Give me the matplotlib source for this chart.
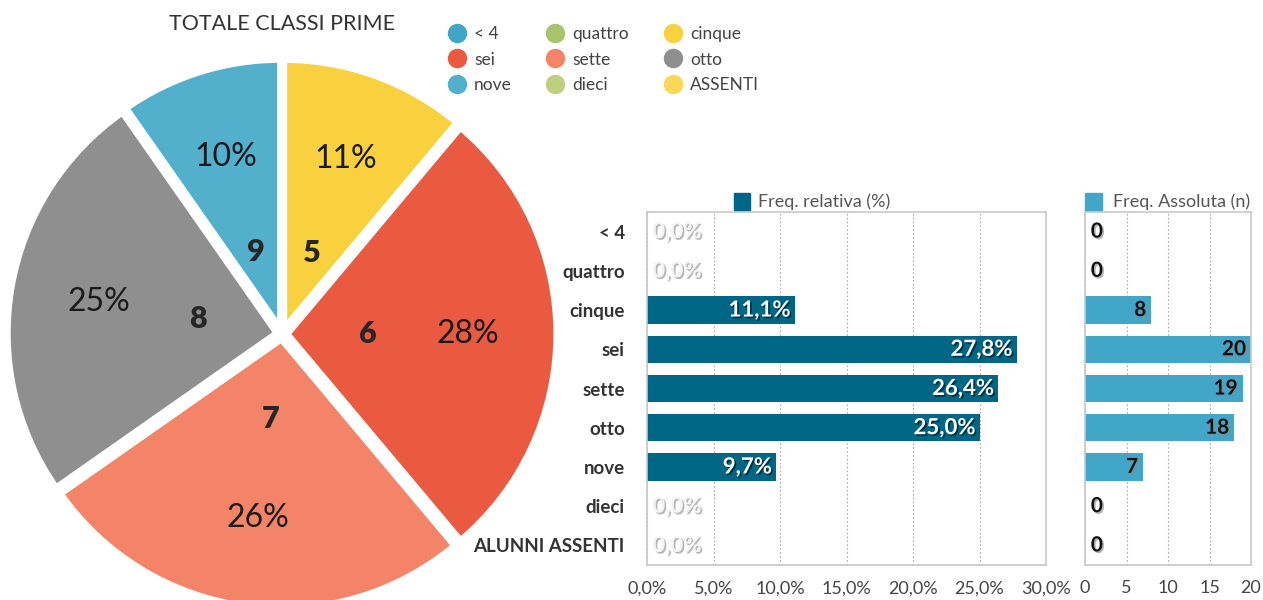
import matplotlib
matplotlib.use('Agg')
import matplotlib.pyplot as plt
import matplotlib.patheffects as pe
from matplotlib.lines import Line2D
from matplotlib.patches import Rectangle
import numpy as np

plt.rcParams['font.family'] = ['Lato', 'DejaVu Sans']

# data
categories = ['< 4', 'quattro', 'cinque', 'sei', 'sette', 'otto', 'nove', 'dieci', 'ALUNNI ASSENTI']
legend_names = ['< 4', 'quattro', 'cinque', 'sei', 'sette', 'otto', 'nove', 'dieci', 'ASSENTI']
grade_labels = ['', '', '5', '6', '7', '8', '9', '', '']
counts = [0, 0, 8, 20, 19, 18, 7, 0, 0]
pct = [0.0, 0.0, 11.1, 27.8, 26.4, 25.0, 9.7, 0.0, 0.0]
colors = ['#3FA6C8', '#A8C46A', '#F9D13E', '#E95A41', '#F38467',
          '#8F8F8F', '#52B0CD', '#BDD081', '#FAD65A']

W, H = 1263, 600
fig = plt.figure(figsize=(W / 100, H / 100), dpi=100)

# ---- pie ----
cx, cy, r = 282, 334, 270
axp = fig.add_axes([(cx - r) / W, (H - cy - r) / H, 2 * r / W, 2 * r / H])
idx = [i for i, c in enumerate(counts) if c > 0]
wedges, labs, pcts = axp.pie([counts[i] for i in idx], colors=[colors[i] for i in idx],
                             labels=[grade_labels[i] for i in idx], startangle=90,
                             counterclock=False, labeldistance=0.3, autopct='%.0f%%',
                             pctdistance=0.67, explode=[0.018] * len(idx),
                             wedgeprops=dict(edgecolor='white', linewidth=5))
for t in labs:
    t.set_ha('center')
    t.set_va('center')
    t.set_fontsize(22)
    t.set_fontweight('heavy')
    t.set_color('#262626')
for t in pcts:
    t.set_fontsize(23)
    t.set_color('#1a1a1a')
axp.set_xlim(-1, 1)
axp.set_ylim(-1, 1)
axp.set_aspect('equal')
axp.axis('off')

fig.text(282 / W, 1 - 24 / H, 'TOTALE CLASSI PRIME', ha='center', va='center',
         fontsize=15.5, color='#333333')

# legend of the pie, 3 columns
order = [0, 3, 6, 1, 4, 7, 2, 5, 8]
handles = [Line2D([], [], marker='o', ls='', markersize=13, color=colors[i]) for i in order]
fig.legend(handles, [legend_names[i] for i in order], ncol=3, frameon=False,
           loc='upper left', bbox_to_anchor=(448 / W, 1 - 26 / H), fontsize=12.5,
           labelcolor='#444444', handletextpad=0.5, columnspacing=2.0,
           labelspacing=0.55, borderpad=0, borderaxespad=0, handlelength=1.0)

# ---- bar charts ----
y = np.arange(len(categories))
shadow_dark = [pe.withSimplePatchShadow(offset=(1.2, -1.2), shadow_rgbFace='#000000', alpha=0.5)]
shadow_light = [pe.withSimplePatchShadow(offset=(1.2, -1.2), shadow_rgbFace='#888888', alpha=0.6)]


def style_axis(ax):
    ax.set_ylim(len(categories) - 0.5, -0.5)
    for s in ax.spines.values():
        s.set_color('#c8c8c8')
        s.set_linewidth(1.2)
    ax.tick_params(length=0, labelsize=13, labelcolor='#444444')
    ax.tick_params(axis='x', pad=11)
    ax.grid(axis='x', ls=(0, (1.5, 2)), color='#aaaaaa', lw=0.8)
    ax.set_axisbelow(True)


ax1 = fig.add_axes([647 / W, 1 - 565 / H, 399 / W, 353 / H])
ax1.barh(y, pct, height=0.7, color='#006685')
ax1.set_xlim(0, 30)
style_axis(ax1)
ax1.set_xticks(range(0, 31, 5))
ax1.set_xticklabels([f'{t:.1f}%'.replace('.', ',') for t in range(0, 31, 5)])
ax1.set_yticks(y)
ax1.set_yticklabels(categories, fontweight='bold', fontsize=13.5, color='#333333')
ax1.tick_params(axis='y', pad=16)
for i, v in enumerate(pct):
    txt = f'{v:.1f}%'.replace('.', ',')
    if v > 0:
        ax1.text(v - 0.3, i, txt, ha='right', va='center', color='white',
                 fontweight='bold', fontsize=16, path_effects=shadow_dark)
    else:
        ax1.text(0.4, i, txt, ha='left', va='center', color='#f4f4f4',
                 fontweight='bold', fontsize=16, path_effects=shadow_light)

ax2 = fig.add_axes([1085 / W, 1 - 565 / H, 166 / W, 353 / H])
ax2.barh(y, counts, height=0.7, color='#41A6C8')
ax2.set_xlim(0, 20)
style_axis(ax2)
ax2.set_xticks(range(0, 21, 5))
ax2.set_yticks([])
for i, v in enumerate(counts):
    if v > 0:
        ax2.text(v - 0.6, i, str(v), ha='right', va='center', color='#111111',
                 fontweight='bold', fontsize=15, path_effects=shadow_light)
    else:
        ax2.text(0.7, i, str(v), ha='left', va='center', color='#111111',
                 fontweight='bold', fontsize=15, path_effects=shadow_light)

# series legends above the bar charts
fig.patches.append(Rectangle((734 / W, 1 - 210 / H), 16 / W, 17 / H,
                             transform=fig.transFigure, color='#006685'))
fig.text(758 / W, 1 - 202 / H, 'Freq. relativa (%)', va='center', fontsize=13, color='#555555')
fig.patches.append(Rectangle((1085 / W, 1 - 210 / H), 17 / W, 17 / H,
                             transform=fig.transFigure, color='#41A6C8'))
fig.text(1113 / W, 1 - 202 / H, 'Freq. Assoluta (n)', va='center', fontsize=13, color='#555555')

fig.savefig('out.png', dpi=100)
